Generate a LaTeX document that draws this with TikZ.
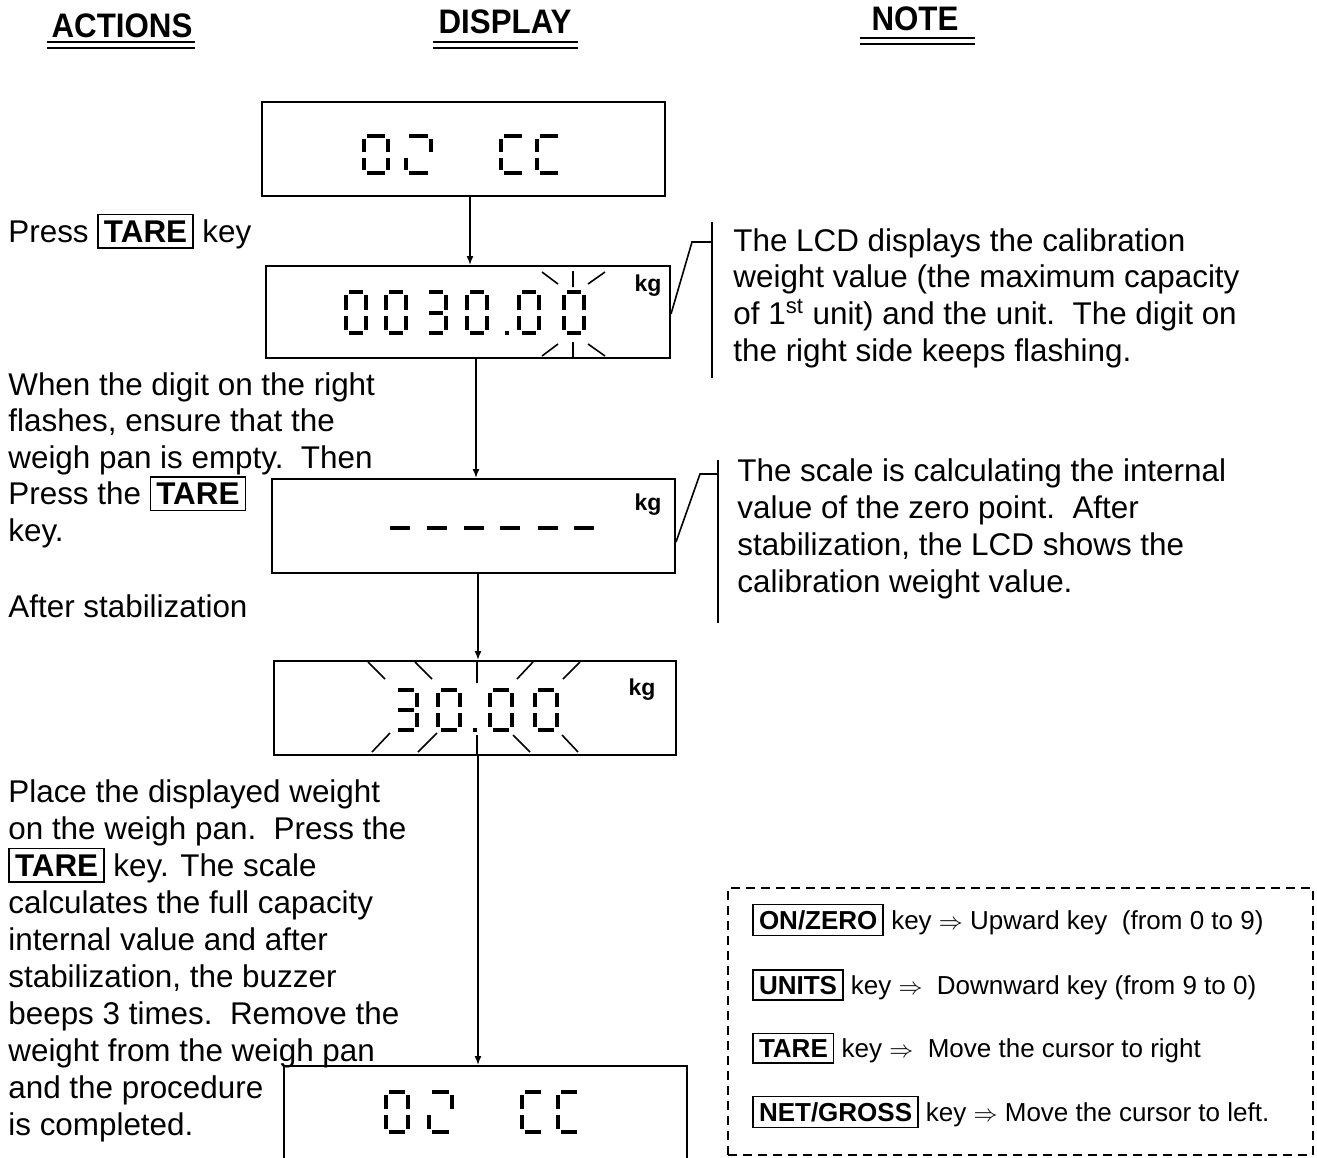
\documentclass[tikz,border=0pt]{standalone}
\usepackage{fontspec}
\setmainfont{Liberation Sans}
\usepackage{graphicx}
\usetikzlibrary{arrows.meta,fit,calc}
\tikzstyle{flowarrow} = [-{Latex[length=4.5pt,width=3.5pt]}, line width=0.8pt]
\newcommand\keycap[1]{{\setlength\fboxsep{2.5pt}\setlength\fboxrule{0.8pt}\fbox{\bfseries #1}}}
% one LCD digit: left, top, width, height, segments
\newcommand\lcddigit[5]{%
  \begin{scope}[shift={(#1,#2)}]
    \def\lcdw{#3}\def\lcdh{#4}
    \coordinate (sa1) at (3,0);             \coordinate (sa2) at (\lcdw-3,0);
    \coordinate (sb1) at (\lcdw,3);         \coordinate (sb2) at (\lcdw,\lcdh/2-3);
    \coordinate (sc1) at (\lcdw,\lcdh/2+3); \coordinate (sc2) at (\lcdw,\lcdh-3);
    \coordinate (sd1) at (3,\lcdh);         \coordinate (sd2) at (\lcdw-3,\lcdh);
    \coordinate (se1) at (0,\lcdh/2+3);     \coordinate (se2) at (0,\lcdh-3);
    \coordinate (sf1) at (0,3);             \coordinate (sf2) at (0,\lcdh/2-3);
    \coordinate (sg1) at (3,\lcdh/2);       \coordinate (sg2) at (\lcdw-3,\lcdh/2);
    \foreach \s in {#5} {\draw[lcdseg] (s\s1) -- (s\s2);}
  \end{scope}}

\begin{document}
\begin{tikzpicture}[x=0.5pt, y=-0.5pt,
  lcdbox/.style={rectangle, draw, line width=1pt, inner sep=0pt},
  lcdseg/.style={line width=2pt},
  flash/.style={line width=0.8pt},
  unitlabel/.style={font=\fontsize{11.5}{13}\selectfont\bfseries},
  heading/.style={font=\fontsize{17}{20}\selectfont\bfseries, anchor=base},
  actiontext/.style={anchor=base west, align=left, inner sep=0pt, font=\fontsize{15.7}{18.5}\selectfont},
  notetext/.style={anchor=base west, align=left, inner sep=0pt, font=\fontsize{15.7}{18.3}\selectfont},
  callout/.style={line width=0.8pt},
  keyline/.style={anchor=base west, inner sep=0pt, font=\fontsize{13}{15}\selectfont}]
\useasboundingbox (0,0) rectangle (1317,1157);

% headings (multi-line nodes below sit on their last baseline)
\node[heading] (hactions) at (122,37) {\scalebox{0.92}[1]{ACTIONS}};
\node[heading] (hdisplay) at (505,33) {\scalebox{0.92}[1]{DISPLAY}};
\node[heading] (hnote) at (915,30) {\scalebox{0.92}[1]{NOTE}};
\foreach \xa/\xb/\yy in {47/195/42, 433/578/42, 860/975/38} {
  \draw[line width=1.3pt] (\xa,\yy) -- (\xb,\yy);
  \draw[line width=1.3pt] (\xa,\yy+6) -- (\xb,\yy+6);
}

% displays
\node[lcdbox, fit={(262,102) (665,196)}] (disp1) {};
\node[lcdbox, fit={(266,266) (670,358)}] (disp2) {};
\node[lcdbox, fit={(272,479) (675,573)}] (disp3) {};
\node[lcdbox, fit={(274,661) (676,755)}] (disp4) {};
\node[lcdbox, fit={(284,1066) (687,1175)}] (disp5) {};

% 02 EC
\lcddigit{364}{136}{24}{37}{a,b,c,d,e,f}
\lcddigit{406}{136}{25}{37}{a,b,e,d}
\lcddigit{501}{136}{24}{37}{a,d,e,f}
\lcddigit{537}{136}{24}{37}{a,d,e,f}
% 0030.00
\lcddigit{346}{292}{20}{41}{a,b,c,d,e,f}
\lcddigit{386}{292}{20}{41}{a,b,c,d,e,f}
\lcddigit{426}{292}{20}{41}{a,b,c,d,g}
\lcddigit{467}{292}{20}{41}{a,b,c,d,e,f}
\fill (505,331) rectangle (509,335);
\lcddigit{519}{292}{20}{41}{a,b,c,d,e,f}
\lcddigit{564}{292}{20}{41}{a,b,c,d,e,f}
\draw[flash] (542,272) -- (558,284) (573,271) -- (573,287) (605,272) -- (588,284);
\draw[flash] (542,356) -- (558,344) (573,342) -- (573,357) (605,356) -- (588,344);
\node[unitlabel] (kg2) at (648,286) {kg};
% ------
\foreach \xa in {390,427,464,500,538,574}
  \draw[lcdseg] (\xa,528) -- (\xa+20,528);
\node[unitlabel] (kg3) at (648,505) {kg};
% 30.00
\lcddigit{395}{690}{22}{40}{a,b,c,d,g}
\lcddigit{438}{690}{22}{40}{a,b,c,d,e,f}
\fill (473,728) rectangle (477,732);
\lcddigit{490}{690}{22}{40}{a,b,c,d,e,f}
\lcddigit{535}{690}{22}{40}{a,b,c,d,e,f}
\draw[flash] (368,662) -- (385,679) (415,662) -- (432,679) (477,661) -- (477,683)
  (533,662) -- (517,679) (580,662) -- (563,679);
\draw[flash] (390,733) -- (372,752) (437,733) -- (418,752) (477,735) -- (477,755)
  (513,735) -- (530,752) (562,735) -- (578,752);
\node[unitlabel] (kg4) at (642,690) {kg};
% 02 EC again
\lcddigit{386}{1092}{22}{40}{a,b,c,d,e,f}
\lcddigit{429}{1092}{23}{40}{a,b,e,d}
\lcddigit{522}{1092}{22}{40}{a,d,e,f}
\lcddigit{558}{1092}{22}{40}{a,d,e,f}

% flow
\coordinate (col1) at (470,0);
\coordinate (col2) at (476,0);
\coordinate (col3) at (478,0);
\draw[flowarrow] (disp1.south -| col1) -- (disp2.north -| col1);
\draw[flowarrow] (disp2.south -| col2) -- (disp3.north -| col2);
\draw[flowarrow] (disp3.south -| col3) -- (disp4.north -| col3);
\draw[flowarrow] (disp4.south -| col3) -- (disp5.north -| col3);

% actions
\node[actiontext] (act1) at (8,242) {Press \keycap{TARE} key};
\node[actiontext, font=\fontsize{15.7}{18.2}\selectfont] (act2) at (8,541) {When the digit on the right\\flashes, ensure that the\\weigh pan is empty.\ \ Then\\Press the \keycap{TARE}\\key.};
\node[actiontext] (act3) at (8,617) {After stabilization};
\node[actiontext] (act4) at (8,1135) {Place the displayed weight\\on the weigh pan.\ \ Press the\\\keycap{TARE}\ key. The scale\\calculates the full capacity\\internal value and after\\stabilization, the buzzer\\beeps 3 times.\ \ Remove the\\weight from the weigh pan\\and the procedure\\is completed.};

% notes
\node[notetext] (note1) at (733,361) {The LCD displays the calibration\\weight value (the maximum capacity\\of 1\textsuperscript{st} unit) and the unit.\ \ The digit on\\the right side keeps flashing.};
\node[notetext, font=\fontsize{15.7}{18.5}\selectfont] (note2) at (737,592) {The scale is calculating the internal\\value of the zero point.\ \ After\\stabilization, the LCD shows the\\calibration weight value.};
\coordinate (bar1) at (712,242);
\coordinate (bar2) at (718,474);
\draw[callout] (712,222) -- (712,378);
\draw[callout] (bar1) -- ++(-20,0) -- ([yshift=-1pt]disp2.east);
\draw[callout] (718,460) -- (718,623);
\draw[callout] (bar2) -- ++(-18,0) -- ($(disp3.east)+(0,16)$);

% key help
\node[draw, dashed, dash pattern=on 4.5pt off 3pt, line width=1pt, inner sep=0pt, fit={(728,888) (1313,1155)}] (keyhelp) {};
\node[keyline] (kon) at (752,929) {\keycap{ON/ZERO} key $\Rightarrow$ Upward key\ \ (from 0 to 9)};
\node[keyline] (kunits) at (752,994) {\keycap{UNITS} key $\Rightarrow$\ \ Downward key (from 9 to 0)};
\node[keyline] (ktare) at (752,1057) {\keycap{TARE} key $\Rightarrow$\ \ Move the cursor to right};
\node[keyline] (knet) at (752,1121) {\keycap{NET/GROSS} key $\Rightarrow$ Move the cursor to left.};
\end{tikzpicture}
\end{document}
